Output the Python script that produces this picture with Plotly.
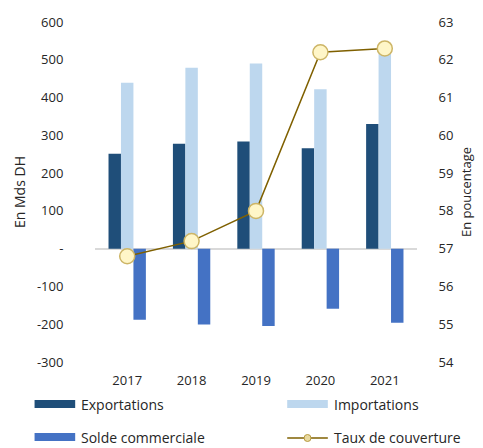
import plotly.graph_objects as go

years = ["2017", "2018", "2019", "2020", "2021"]
exportations = [251, 278, 284, 266, 330]
importations = [439, 479, 490, 422, 534]
solde = [-188, -201, -205, -159, -196]
taux = [56.8, 57.2, 58.0, 62.2, 62.3]

left_ticks = [-300, -200, -100, 0, 100, 200, 300, 400, 500, 600]
left_text = ["-300", "-200", "-100", "-", "100", "200", "300", "400", "500", "600"]
right_ticks = [54, 55, 56, 57, 58, 59, 60, 61, 62, 63]

C_EXP = "#1F4E79"
C_IMP = "#BDD7EE"
C_SOL = "#4472C4"
C_LINE = "#7F6000"
C_MFILL = "#FFF6C8"
C_MEDGE = "#CDB566"
TXT = "#262626"
font_family = "Open Sans, Noto Sans, sans-serif"

W, H = 483, 448
L, R, T, B = 95, 63, 22, 86
PW, PH = W - L - R, H - T - B


def px(x):
    return (x - L) / PW


def py(y):
    return (H - B - y) / PH


fig = go.Figure()
fig.add_trace(go.Bar(x=years, y=exportations, name="Exportations",
                     marker=dict(color=C_EXP, line=dict(width=0))))
fig.add_trace(go.Bar(x=years, y=importations, name="Importations",
                     marker=dict(color=C_IMP, line=dict(width=0))))
fig.add_trace(go.Bar(x=years, y=solde, name="Solde commerciale",
                     marker=dict(color=C_SOL, line=dict(width=0))))
fig.add_trace(go.Scatter(x=years, y=taux, name="Taux de couverture", yaxis="y2",
                         mode="lines+markers",
                         line=dict(color=C_LINE, width=1.5),
                         marker=dict(size=15, color=C_MFILL,
                                     line=dict(color=C_MEDGE, width=1.5))))

# custom legend
shapes = []
annotations = []
legend_items = [
    ("Exportations", "rect", C_EXP, 34, 400),
    ("Importations", "rect", C_IMP, 289, 400),
    ("Solde commerciale", "rect", C_SOL, 34, 433),
    ("Taux de couverture", "line", C_LINE, 289, 433),
]
for name, kind, color, x0, y0 in legend_items:
    if kind == "rect":
        shapes.append(dict(type="rect", xref="paper", yref="paper",
                           x0=px(x0), x1=px(x0 + 41), y0=py(y0), y1=py(y0 + 8),
                           fillcolor=color, line=dict(width=0)))
    else:
        shapes.append(dict(type="line", xref="paper", yref="paper",
                           x0=px(x0), x1=px(x0 + 41), y0=py(y0 + 5), y1=py(y0 + 5),
                           line=dict(color=color, width=1.5)))
        shapes.append(dict(type="circle", xref="paper", yref="paper",
                           x0=px(x0 + 17), x1=px(x0 + 24), y0=py(y0 + 1.5), y1=py(y0 + 8.5),
                           fillcolor="#E8D9A0", line=dict(color="#B89B40", width=1)))
    annotations.append(dict(text=name, xref="paper", yref="paper",
                            x=px(x0 + 45), y=py(y0 + 4), xanchor="left", yanchor="middle",
                            showarrow=False, font=dict(size=14, color=TXT)))

fig.update_layout(
    width=W, height=H,
    margin=dict(l=L, r=R, t=T, b=B),
    plot_bgcolor="white", paper_bgcolor="white",
    font=dict(family=font_family, size=13, color=TXT),
    barmode="group", bargap=0.42, bargroupgap=0,
    showlegend=False,
    shapes=shapes, annotations=annotations,
    xaxis=dict(type="category", showgrid=False, showline=False,
               ticks="outside", ticklen=6, tickcolor="rgba(0,0,0,0)",
               tickfont=dict(size=13)),
    yaxis=dict(range=[-300, 600], tickvals=left_ticks, ticktext=left_text,
               showgrid=False, zeroline=True, zerolinecolor="#D9D9D9", zerolinewidth=1.5,
               showline=False, ticks="outside", ticklen=28, tickcolor="rgba(0,0,0,0)",
               title=dict(text="En Mds DH", standoff=8, font=dict(size=14))),
    yaxis2=dict(range=[54, 63], tickvals=right_ticks, overlaying="y", side="right",
                showgrid=False, zeroline=False, showline=False,
                ticks="outside", ticklen=18, tickcolor="rgba(0,0,0,0)",
                title=dict(text="En poucentage", standoff=8, font=dict(size=13))),
)

fig.write_html("out.html",
               config={"displayModeBar": False},
               post_script="document.body.style.margin='0';document.body.style.overflow='hidden';")
